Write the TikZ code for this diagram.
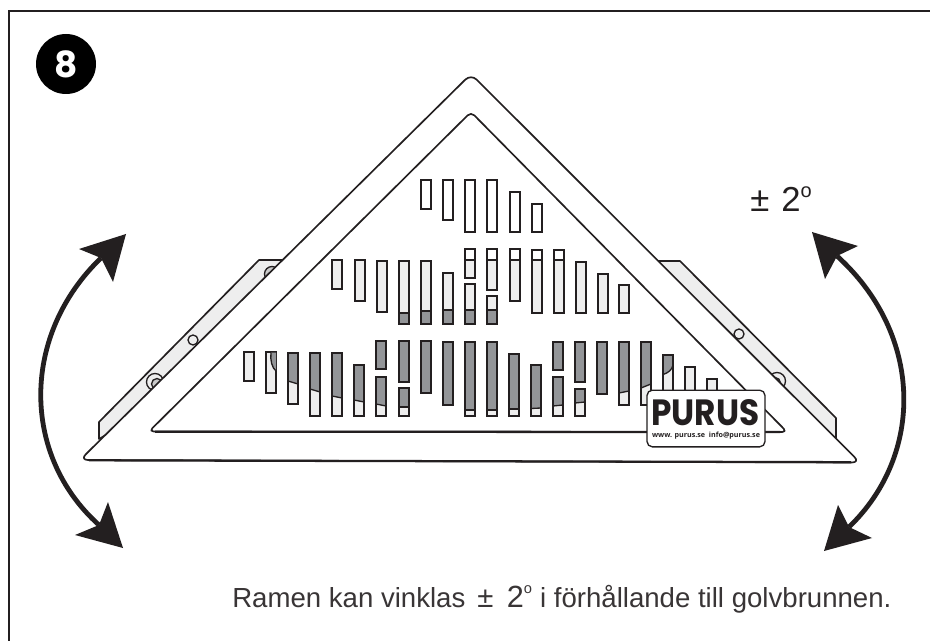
\documentclass[tikz,border=0pt]{standalone}
\usepackage{fontspec}
\usepackage{graphicx}
\setmainfont{Liberation Sans}
\newfontfamily\logofont{Poppins}
\newfontfamily\webfont{Open Sans}
\usetikzlibrary{calc}
\definecolor{ink}{HTML}{231F20}
\definecolor{lightg}{HTML}{EEEEEE}
\definecolor{darkg}{HTML}{939598}
\tikzset{
  slotline/.style={draw=ink,line width=1.3pt},
  frameline/.style={draw=ink,line width=1.25pt,line join=round},
  flap/.style={draw=ink,fill=lightg,line width=1.25pt,line join=round},
  shaft/.style={draw=ink,line width=3.6pt},
}
% plain slot: x, top, bottom, fill
\newcommand{\Sl}[4]{\path[slotline,fill=#4] (#1,#2) rectangle (#1+10,#3);}
% dark top, light below: x, top, bottom, y of split left, y of split right
\newcommand{\Dt}[5]{\fill[lightg] (#1,#2) rectangle (#1+10,#3);
  \fill[darkg] (#1,#2) -- (#1+10,#2) -- (#1+10,#5) -- (#1,#4) -- cycle;
  \draw[ink,line width=1pt] (#1,#4) -- (#1+10,#5);
  \path[slotline] (#1,#2) rectangle (#1+10,#3);}
% light top, dark below: x, top, bottom, y of split
\newcommand{\Lb}[4]{\fill[lightg] (#1,#2) rectangle (#1+10,#3);
  \fill[darkg] (#1,#4) rectangle (#1+10,#3);
  \draw[ink,line width=1pt] (#1,#4) -- (#1+10,#4);
  \path[slotline] (#1,#2) rectangle (#1+10,#3);}
% light slot with white cap: x, top, bottom, y of divider
\newcommand{\Cp}[4]{\fill[lightg] (#1,#2) rectangle (#1+10,#3);
  \fill[white] (#1,#2) rectangle (#1+10,#4);
  \draw[ink,line width=1pt] (#1,#4) -- (#1+10,#4);
  \path[slotline] (#1,#2) rectangle (#1+10,#3);}
% arrow head: tip, barb, notch, barb
\newcommand{\Hd}[4]{\fill[ink] (#1) .. controls ($(#1)!.5!(#2)!.05!(#3)$) .. (#2)
  -- (#3) -- (#4)
  .. controls ($(#4)!.5!(#1)!.05!(#3)$) .. (#1) -- cycle;}
\begin{document}
\begin{tikzpicture}[x=0.75pt,y=-0.75pt]
\useasboundingbox (0,0) rectangle (930,641);
\fill[white] (0,0) rectangle (930,641);
% page frame: top and left rules only
\draw[ink,line width=1pt] (9,641) -- (9,11) -- (930,11);
% number badge
\node[circle,fill=black,minimum size=45pt,inner sep=0pt,text=white,font=\logofont\bfseries\fontsize{27}{27}\selectfont] (badge) at (66,64) {8};
% side flaps
\path[flap] (99,439) -- (99,422) -- (259,260) -- (300,260) -- (300,320) -- cycle;
\path[flap] (640,320) -- (640,261) -- (680,261) -- (836,418) -- (836,440) -- cycle;
% bolt holes
\path[draw=ink,fill=lightg,line width=1pt] (155,382) circle (8.5);
\path[draw=ink,fill=lightg!85!black,line width=1pt] (157,384) circle (5.5);
\path[draw=ink,fill=lightg!85!black,line width=1pt] (272,274) circle (7.5);
\path[draw=ink,fill=lightg,line width=1pt] (193,340) circle (5);
\path[draw=ink,fill=lightg,line width=1pt] (739,334) circle (5);
\path[draw=ink,fill=lightg,line width=1pt] (777,381) circle (8.5);
\path[draw=ink,fill=lightg!90!black,line width=1pt] (775,383) circle (5.5);
% frame and inner triangle
\path[frameline,fill=white,rounded corners=6pt] (80,460) -- (471,74) -- (860,462.5) -- cycle;
\path[frameline,fill=white,rounded corners=3.5pt] (149,431.5) -- (471,112) -- (787,432) -- cycle;
\draw[ink,line width=1.7pt] (155,431.7) -- (780,432);
\draw[ink,line width=1.7pt] (89,460.3) -- (851,462.2);
% top row
\Sl{421}{180}{209}{white}
\Sl{443}{180}{220}{white}
\Sl{465}{180}{232}{white}
\Sl{487}{180}{232}{white}
\Sl{510}{192}{232}{white}
\Sl{532}{204}{232}{white}
% middle row
\Sl{332}{260}{289}{lightg}
\Sl{355}{260}{301}{lightg}
\Sl{377}{261}{312}{lightg}
\Lb{399}{261}{324}{313}
\Lb{421}{261}{324}{311}
\Lb{443}{273}{324}{310}
\Cp{465}{249}{278}{260}
\Lb{465}{284}{324}{310}
\Cp{487}{249}{290}{260}
\Lb{487}{296}{324}{310}
\Cp{510}{249}{301}{260}
\Cp{532}{250}{313}{260}
\Cp{554}{250}{313}{260}
\Sl{576}{262}{313}{lightg}
\Sl{598}{274}{313}{lightg}
\Sl{619}{285}{313}{lightg}
% bottom row
\Sl{244}{352}{381}{lightg}
\Sl{266}{352}{393}{lightg}
\fill[darkg] (271,352.5) .. controls (270,360) and (272,368) .. (276,371) -- (276,352.5) -- cycle;
\draw[ink,line width=1pt] (271,352.5) .. controls (270,360) and (272,368) .. (276,371);
\Dt{288}{353}{404}{381}{384}
\Dt{310}{353}{416}{389}{392}
\Dt{332}{353}{416}{396}{398}
\Dt{354}{365}{416}{400}{402}
\Sl{376}{341}{369}{darkg}
\Dt{376}{377}{416}{404}{406}
\Sl{399}{341}{382}{darkg}
\Dt{399}{388}{416}{407}{407}
\Sl{421}{341}{393}{darkg}
\Sl{443}{342}{405}{darkg}
\Dt{465}{342}{416}{410}{410}
\Dt{487}{342}{416}{410}{410}
\Dt{509}{354}{416}{409}{409}
\Dt{531}{365}{416}{408.5}{408}
\Sl{553}{342}{370}{darkg}
\Dt{553}{377}{416}{406}{405}
\Sl{575}{342}{382}{darkg}
\Dt{575}{389}{416}{403}{402}
\Sl{597}{342}{394}{darkg}
\Dt{619}{342}{405}{393}{391}
\Dt{641}{342}{405}{388}{384}
\Sl{663}{355}{410}{lightg}
\fill[darkg] (663,355) -- (673,355) -- (673,365) .. controls (672,370) and (668,373) .. (663,374.5) -- cycle;
\draw[ink,line width=1pt] (673,365) .. controls (672,370) and (668,373) .. (663,374.5);
\path[slotline] (663,355) rectangle (673,410);
\Sl{685}{367}{410}{lightg}
\Sl{707}{379}{410}{lightg}
% logo
\node[draw=ink,fill=white,line width=1pt,rounded corners=4pt,minimum width=88.5pt,minimum height=42.5pt,inner sep=0pt] (logo) at (706,418.5) {};
\node[inner sep=0pt,text=ink] (logoname) at (705.5,412.5) {\resizebox{81pt}{19.5pt}{\logofont\bfseries PURUS}};
\node[inner sep=0pt,text=ink] (logoweb) at (706,436) {\resizebox{81pt}{!}{\webfont\bfseries www. purus.se\ \ info@purus.se}};
% curved arrows
\coordinate (ltt) at (126,234);
\coordinate (ltb1) at (79,249);
\coordinate (ltn) at (101,258);
\coordinate (ltb2) at (113,282);
\coordinate (lbt) at (123,548);
\coordinate (lbb1) at (75,535);
\coordinate (lbn) at (99,525);
\coordinate (lbb2) at (108,502);
\coordinate (rtt) at (812,232);
\coordinate (rtb1) at (858,246);
\coordinate (rtn) at (837,256);
\coordinate (rtb2) at (825,279);
\coordinate (rbt) at (824,551);
\coordinate (rbb1) at (872,538);
\coordinate (rbn) at (849,527);
\coordinate (rbb2) at (838,505);
\draw[shaft] (ltn) .. controls (21,335) and (21,455) .. (lbn);
\draw[shaft] (rtn) .. controls (924,335) and (924,455) .. (rbn);
\Hd{ltt}{ltb1}{ltn}{ltb2}
\Hd{lbt}{lbb1}{lbn}{lbb2}
\Hd{rtt}{rtb1}{rtn}{rtb2}
\Hd{rbt}{rbb1}{rbn}{rbb2}
% texts
\node[anchor=base west,inner sep=0pt,text=ink,font=\fontsize{26}{26}\selectfont] (angle) at (750,212) {±\hspace{9pt}2\raisebox{0.42em}{\fontsize{15}{15}\selectfont o}};
\node[anchor=base west,inner sep=0pt,text=ink!90,font=\fontsize{20.7}{22}\selectfont] (caption) at (232,607) {Ramen kan vinklas\hspace{9pt}{\fontsize{22}{22}\selectfont ±}\hspace{10pt}{\fontsize{23}{23}\selectfont 2}\raisebox{0.5em}{\fontsize{11}{11}\selectfont o}\hspace{6pt}i förhållande till golvbrunnen.};
\end{tikzpicture}
\end{document}
